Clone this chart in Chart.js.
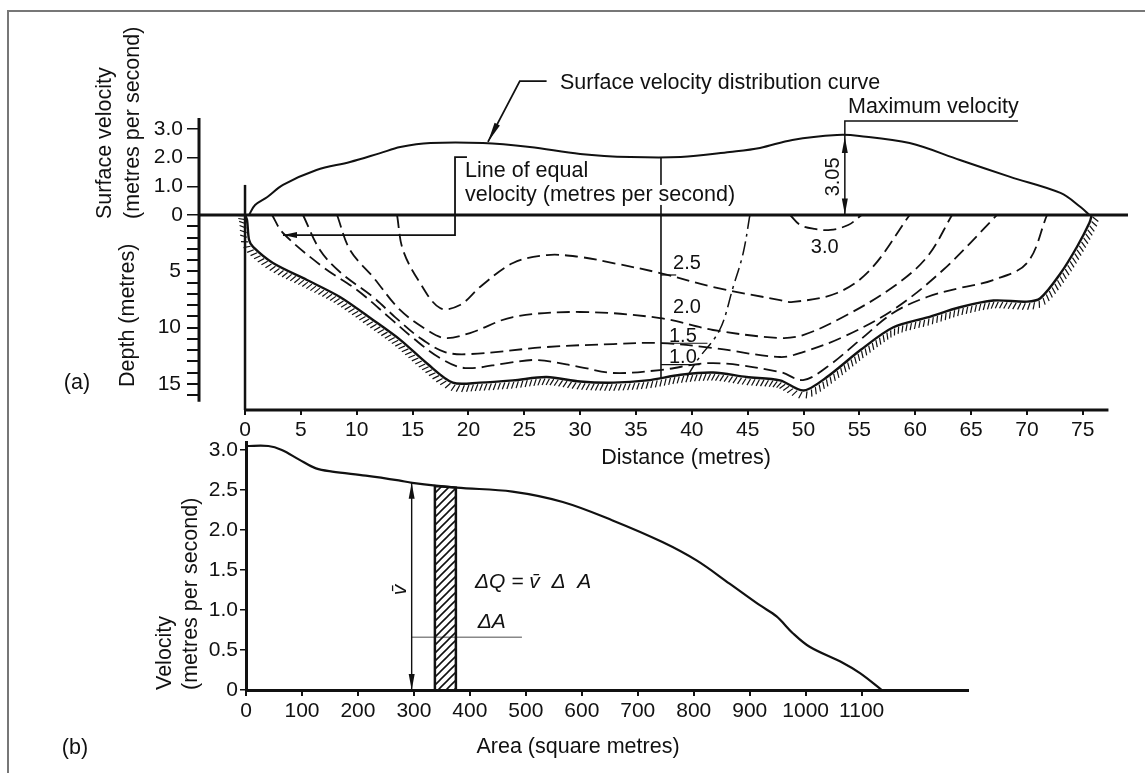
<!DOCTYPE html>
<html>
<head>
<meta charset="utf-8">
<script src="https://cdn.jsdelivr.net/npm/chart.js@4.4.1/dist/chart.umd.min.js"></script>
<style>
  html, body { margin: 0; padding: 0; background: #fff; }
  #page { position: relative; width: 1145px; height: 773px; overflow: hidden; background: #fff; }
  #frame { position: absolute; left: 7px; top: 10px; right: -10px; bottom: -10px;
           border-top: 2px solid #777; border-left: 2px solid #777; }
  canvas { position: absolute; left: 0; top: 0; }
</style>
</head>
<body>
<div id="page">
  <div id="frame"></div>
  <canvas id="sectionChart" width="1145" height="773"></canvas>
  <canvas id="areaChart" width="1145" height="773"></canvas>
</div>
<script>
// ---------- (a) cross section: distance (m) / surface velocity (m/s) / depth (m) ----------
const distanceTicks = [0, 5, 10, 15, 20, 25, 30, 35, 40, 45, 50, 55, 60, 65, 70, 75];
const surfaceTicks = [0, 1, 2, 3];
const surfaceTickLabels = ['0', '1.0', '2.0', '3.0'];
const depthTicks = [1, 2, 3, 4, 5, 6, 7, 8, 9, 10, 11, 12, 13, 14, 15, 16];
const depthTickLabels = ['', '', '', '', '5', '', '', '', '', '10', '', '', '', '', '15', ''];

const surfaceDist = [0.36, 0.9, 2.0, 3.4, 6.4, 9.4, 12.1, 13.9, 16.6, 21.3, 25.5, 30.0, 34.5, 39.0, 43.4, 46.1, 49.0, 53.0, 55.0, 59.5, 64.0, 68.5, 73.0, 74.8, 75.6];
const surfaceVel = [0, 0.35, 0.63, 1.05, 1.57, 1.85, 2.16, 2.37, 2.51, 2.51, 2.37, 2.13, 2.02, 2.02, 2.2, 2.34, 2.62, 2.79, 2.76, 2.51, 1.92, 1.33, 0.77, 0.28, 0];

const bedDist = [0, 0.18, 0.36, 0.72, 2.5, 5.55, 8.5, 11.46, 13.9, 16.3, 18.6, 21.0, 24.0, 27.0, 30.0, 33.0, 36.0, 39.0, 41.9, 44.9, 47.9, 50.0, 52.1, 55.1, 58.0, 61.1, 64.0, 67.0, 70.0, 71.2, 73.0, 74.5, 75.6, 75.8];
const bedDepth = [0, 0.44, 2.2, 2.84, 4.27, 5.78, 7.29, 9.33, 11.1, 13.2, 14.9, 14.9, 14.7, 14.4, 14.8, 14.9, 14.7, 14.2, 14.0, 14.4, 14.7, 15.6, 14.4, 12.0, 10.0, 9.1, 8.2, 7.6, 7.7, 7.4, 5.2, 2.8, 0.7, 0];

// lines of equal velocity
const iso10Dist = [2.42, 3.4, 6.98, 10.03, 12.98, 15.04, 17.46, 19.7, 23.46, 26.14, 29.99, 32.95, 37.15, 41.9, 47.9, 49.96, 52.1, 55.06, 58.01, 61.06, 64.01, 66.97, 70.01, 71.8];
const iso10Depth = [0, 1.6, 4.62, 6.67, 9.16, 10.93, 12.71, 13.6, 13.16, 12.89, 13.51, 14.04, 13.78, 13.16, 13.96, 14.67, 13.51, 11.11, 8.71, 7.29, 6.49, 5.78, 4.27, 0];
const iso15Dist = [5.19, 6.71, 8.5, 11.46, 13.43, 15.67, 17.9, 20.14, 27.04, 32.95, 37.15, 41.9, 47.9, 49.96, 53.54, 58.01, 62.49, 67.32];
const iso15Depth = [0, 3.11, 5.07, 7.29, 9.07, 10.93, 12.18, 12.36, 11.73, 11.47, 11.38, 11.82, 12.62, 12.18, 10.84, 8.44, 4.89, 0];
const iso20Dist = [8.24, 9.4, 11.46, 13.88, 16.29, 17.9, 20.14, 23.99, 29.99, 37.15, 41.9, 47.9, 49.96, 53.54, 58.01, 61.06, 63.3];
const iso20Depth = [0, 3.11, 5.51, 8.44, 10.22, 10.93, 10.49, 9.07, 8.62, 9.16, 10.22, 10.93, 10.67, 9.07, 6.4, 3.73, 0];
const iso25Dist = [13.61, 14.14, 15.67, 17.46, 19.25, 21.04, 23.99, 27.04, 29.99, 32.95, 37.15, 41.9, 47.9, 49.07, 53.0, 55.96, 59.5];
const iso25Depth = [0, 3.11, 6.04, 8.27, 8.0, 6.4, 4.27, 3.56, 3.73, 4.27, 5.16, 6.4, 7.56, 7.73, 6.93, 4.89, 0];
const iso30Dist = [48.8, 49.7, 51.0, 52.4, 54.0, 55.2];
const iso30Depth = [0, 0.89, 1.24, 1.33, 0.89, 0];

// dash-dot line of maximum velocity
const ridgeDist = [45.2, 44.6, 43.7, 42.5, 40.5, 39.5];
const ridgeDepth = [0, 3.38, 6.4, 10.2, 12.9, 14.5];

// sample vertical
const sampleDist = 37.24;
const sampleTopVel = 2.02;
const sampleBottomDepth = 14.5;

// ---------- (b) velocity against cumulative area ----------
const areaTicks = [0, 100, 200, 300, 400, 500, 600, 700, 800, 900, 1000, 1100];
const velocityTicks = [0, 0.5, 1, 1.5, 2, 2.5, 3];
const velocityTickLabels = ['0', '0.5', '1.0', '1.5', '2.0', '2.5', '3.0'];
const curveArea = [0, 40, 64, 95, 125, 154, 214, 273, 297, 376, 476, 566, 655, 744, 805, 864, 918, 948, 977, 1007, 1066, 1097, 1136];
const curveVel = [3.05, 3.05, 3.0, 2.88, 2.77, 2.73, 2.68, 2.62, 2.59, 2.53, 2.48, 2.35, 2.12, 1.85, 1.62, 1.33, 1.06, 0.92, 0.71, 0.54, 0.34, 0.21, 0];
const stripArea = [337.5, 375];
const stripTop = [2.55, 2.53];
const meanArea = 296;
const meanVel = 2.59;
const deltaALevel = 0.66;
const deltaASpan = [296, 493];

// ---------- helpers ----------
const FONT = '"Liberation Sans", Arial, Helvetica, sans-serif';
const BLACK = '#111';
const TICK_SIZE = 21;
const TEXT = `21.5px ${FONT}`;
Chart.defaults.font.family = FONT;
Chart.defaults.font.size = TICK_SIZE;
Chart.defaults.color = BLACK;

const pts = (xs, ys) => xs.map((x, i) => ({ x, y: ys[i] }));

// widest depth label, so the mirrored labels can be pushed back to the left of the axis
const measure = document.createElement('canvas').getContext('2d');
measure.font = `${TICK_SIZE}px ${FONT}`;
const depthLabelWidth = Math.max(...depthTickLabels.map(t => measure.measureText(t).width));

function curve(data, yAxisID, extra) {
  return Object.assign({
    data, yAxisID, showLine: true, fill: false,
    borderColor: BLACK, borderWidth: 2, pointRadius: 0, tension: 0.35
  }, extra);
}

function stroke(ctx, points, width) {
  ctx.lineWidth = width;
  ctx.beginPath();
  points.forEach(([x, y], i) => (i ? ctx.lineTo(x, y) : ctx.moveTo(x, y)));
  ctx.stroke();
}

function arrowHead(ctx, tx, ty, fx, fy, len, half) {
  const a = Math.atan2(ty - fy, tx - fx);
  const bx = tx - len * Math.cos(a), by = ty - len * Math.sin(a);
  ctx.beginPath();
  ctx.moveTo(tx, ty);
  ctx.lineTo(bx + half * Math.sin(a), by - half * Math.cos(a));
  ctx.lineTo(bx - half * Math.sin(a), by + half * Math.cos(a));
  ctx.closePath();
  ctx.fill();
}

function label(ctx, str, x, y, align, font) {
  ctx.font = font || TEXT;
  ctx.textAlign = align || 'left';
  ctx.textBaseline = 'middle';
  ctx.fillText(str, x, y);
}

// same as label, but clears a white box behind the text first
function knockoutLabel(ctx, str, x, y) {
  ctx.font = TEXT;
  const w = ctx.measureText(str).width;
  ctx.save();
  ctx.fillStyle = '#fff';
  ctx.fillRect(x - 2, y - 10, w + 4, 20);
  ctx.restore();
  label(ctx, str, x, y);
}

function vlabel(ctx, str, x, y, align, font) {
  ctx.save();
  ctx.translate(x, y);
  ctx.rotate(-Math.PI / 2);
  label(ctx, str, 0, 0, align, font);
  ctx.restore();
}

// sample the drawn bezier of a dataset, then put short hatch strokes under it
function hatchBed(ctx, meta) {
  const el = meta.data;
  const path = [];
  for (let i = 0; i < el.length - 1; i++) {
    const p0 = el[i], p3 = el[i + 1];
    const c1x = p0.cp2x ?? p0.x, c1y = p0.cp2y ?? p0.y;
    const c2x = p3.cp1x ?? p3.x, c2y = p3.cp1y ?? p3.y;
    for (let t = 0; t < 1; t += 0.1) {
      const u = 1 - t;
      path.push([
        u * u * u * p0.x + 3 * u * u * t * c1x + 3 * u * t * t * c2x + t * t * t * p3.x,
        u * u * u * p0.y + 3 * u * u * t * c1y + 3 * u * t * t * c2y + t * t * t * p3.y
      ]);
    }
  }
  path.push([el[el.length - 1].x, el[el.length - 1].y]);
  ctx.lineWidth = 1.2;
  let acc = 0;
  for (let i = 0; i < path.length - 1; i++) {
    const [ax, ay] = path[i], [bx, by] = path[i + 1];
    const len = Math.hypot(bx - ax, by - ay);
    if (!len) continue;
    const tx = (bx - ax) / len, ty = (by - ay) / len;
    const nx = -ty, ny = tx;
    while (acc < len) {
      const px = ax + tx * acc, py = ay + ty * acc;
      ctx.beginPath();
      ctx.moveTo(px + nx * 1.5, py + ny * 1.5);
      ctx.lineTo(px + nx * 8 - tx * 3, py + ny * 8 - ty * 3);
      ctx.stroke();
      acc += 4.5;
    }
    acc -= len;
  }
}

function hatchPattern() {
  const c = document.createElement('canvas');
  c.width = c.height = 8;
  const g = c.getContext('2d');
  g.strokeStyle = BLACK;
  g.lineWidth = 1.6;
  g.beginPath();
  g.moveTo(0, 8); g.lineTo(8, 0);
  g.moveTo(-2, 2); g.lineTo(2, -2);
  g.moveTo(6, 10); g.lineTo(10, 6);
  g.stroke();
  return g.createPattern(c, 'repeat');
}

// ---------- (a) decorations: axis lines, bed hatching, notes ----------
const sectionDecor = {
  id: 'sectionDecor',
  afterDraw(chart) {
    const { ctx, chartArea: ca, scales } = chart;
    const X = d => scales.x.getPixelForValue(d);
    const V = v => scales.yV.getPixelForValue(v);
    const D = d => scales.yD.getPixelForValue(d);
    ctx.save();
    ctx.strokeStyle = BLACK;
    ctx.fillStyle = BLACK;

    stroke(ctx, [[ca.left, ca.top], [ca.left, D(16.6)]], 3);          // left axis
    stroke(ctx, [[ca.left, V(0)], [ca.right, V(0)]], 3);               // water surface
    stroke(ctx, [[X(0), ca.bottom], [X(77.3), ca.bottom]], 3);          // distance axis
    stroke(ctx, [[X(0), V(1.05)], [X(0), ca.bottom]], 2.5);             // bank at zero distance

    hatchBed(ctx, chart.getDatasetMeta(1));

    // surface velocity curve note
    label(ctx, 'Surface velocity distribution curve', X(28.2), V(4.6));
    stroke(ctx, [[X(27.0), V(4.67)], [X(24.6), V(4.67)], [X(21.75), V(2.55)]], 1.8);
    arrowHead(ctx, X(21.75), V(2.55), X(24.6), V(4.67), 20, 3);

    // maximum velocity
    label(ctx, 'Maximum velocity', X(53.98), V(3.77));
    stroke(ctx, [[X(69.2), V(3.28)], [X(53.7), V(3.28)], [X(53.7), V(0)]], 1.5);
    arrowHead(ctx, X(53.7), V(2.72), X(53.7), V(1.5), 16, 3);
    arrowHead(ctx, X(53.7), V(0.02), X(53.7), V(1.0), 16, 3);
    vlabel(ctx, '3.05', X(52.7), V(1.33), 'center', `20px ${FONT}`);

    // line of equal velocity note
    label(ctx, 'Line of equal', X(19.7), V(1.53));
    knockoutLabel(ctx, 'velocity (metres per second)', X(19.7), V(0.7));
    stroke(ctx, [[X(19.87), V(2.02)], [X(18.8), V(2.02)], [X(18.8), D(1.78)], [X(3.4), D(1.78)]], 1.8);
    arrowHead(ctx, X(3.4), D(1.78), X(8), D(1.78), 14, 3);

    // isovel values
    const small = `20px ${FONT}`;
    label(ctx, '2.5', X(39.57), D(4.27), 'center', small);
    label(ctx, '2.0', X(39.57), D(8.18), 'center', small);
    label(ctx, '1.5', X(39.2), D(10.84), 'center', small);
    label(ctx, '1.0', X(39.2), D(12.62), 'center', small);
    label(ctx, '3.0', X(51.9), D(2.93), 'center', small);
    stroke(ctx, [[X(sampleDist), D(5.33)], [X(38.6), D(5.33)]], 1.2);
    stroke(ctx, [[X(sampleDist), D(11.4)], [X(41.4), D(11.4)]], 1.2);
    stroke(ctx, [[X(sampleDist), D(13.3)], [X(40.7), D(13.3)]], 1.2);

    // axis titles
    vlabel(ctx, 'Surface velocity', 105, 219, 'left');
    vlabel(ctx, '(metres per second)', 133, 219, 'left');
    vlabel(ctx, 'Depth (metres)', 128, 387, 'left');
    label(ctx, 'Distance (metres)', 686, 458, 'center');
    label(ctx, '(a)', 77, 383, 'center');
    ctx.restore();
  }
};

new Chart(document.getElementById('sectionChart'), {
  type: 'scatter',
  data: {
    datasets: [
      curve(pts(surfaceDist, surfaceVel), 'yV'),
      curve(pts(bedDist, bedDepth), 'yD', { tension: 0.3, borderWidth: 2.4 }),
      curve(pts(iso10Dist, iso10Depth), 'yD', { borderDash: [13, 6], borderWidth: 1.8 }),
      curve(pts(iso15Dist, iso15Depth), 'yD', { borderDash: [13, 6], borderWidth: 1.8 }),
      curve(pts(iso20Dist, iso20Depth), 'yD', { borderDash: [13, 6], borderWidth: 1.8 }),
      curve(pts(iso25Dist, iso25Depth), 'yD', { borderDash: [13, 6], borderWidth: 1.8 }),
      curve(pts(iso30Dist, iso30Depth), 'yD', { borderDash: [13, 6], borderWidth: 1.8 }),
      curve(pts(ridgeDist, ridgeDepth), 'yD', { borderDash: [14, 5, 3, 5], borderWidth: 1.5 }),
      curve(pts([sampleDist, sampleDist], [0, sampleTopVel]), 'yV', { tension: 0, borderWidth: 1.6 }),
      curve(pts([sampleDist, sampleDist], [0, sampleBottomDepth]), 'yD', { tension: 0, borderWidth: 1.6 })
    ]
  },
  options: {
    responsive: false,
    animation: false,
    layout: { padding: { left: 139, top: 118, right: 17, bottom: 323 } },
    plugins: { legend: { display: false }, tooltip: { enabled: false } },
    scales: {
      x: {
        type: 'linear', position: 'bottom', min: -4.12, max: 79.05,
        afterBuildTicks: s => { s.ticks = distanceTicks.map(value => ({ value })); },
        afterFit: s => { s.height = 40; },
        border: { display: false },
        grid: { drawOnChartArea: false, color: BLACK, lineWidth: 2, tickLength: 5 },
        ticks: { autoSkip: false, maxRotation: 0, padding: 3, callback: (v, i) => String(distanceTicks[i]) }
      },
      yV: {
        type: 'linear', position: 'left', weight: 1, min: -6.8, max: 3.384,
        afterBuildTicks: s => { s.ticks = surfaceTicks.map(value => ({ value })); },
        afterFit: s => { s.width = 60; },
        border: { display: false },
        grid: { drawOnChartArea: false, color: BLACK, lineWidth: 1.5, tickLength: 12 },
        ticks: { autoSkip: false, padding: 4, callback: (v, i) => surfaceTickLabels[i] }
      },
      yD: {
        // zero-width axis sharing the same line; labels mirrored then shifted back to the left
        type: 'linear', position: 'left', weight: 0, reverse: true, min: -8.62, max: 17.33,
        afterBuildTicks: s => { s.ticks = depthTicks.map(value => ({ value })); },
        afterFit: s => { s.width = 0; },
        border: { display: false },
        grid: { drawOnChartArea: false, color: BLACK, lineWidth: 2, tickLength: 12 },
        ticks: {
          autoSkip: false, mirror: true, crossAlign: 'far',
          padding: -(12 + 6 + depthLabelWidth),
          callback: (v, i) => depthTickLabels[i]
        }
      }
    }
  },
  plugins: [sectionDecor]
});

// ---------- (b) decorations ----------
const areaDecor = {
  id: 'areaDecor',
  afterDraw(chart) {
    const { ctx, scales } = chart;
    const X = a => scales.x.getPixelForValue(a);
    const Y = v => scales.y.getPixelForValue(v);
    ctx.save();
    ctx.fillStyle = BLACK;
    arrowHead(ctx, X(meanArea), Y(meanVel), X(meanArea), Y(1.5), 16, 3);
    arrowHead(ctx, X(meanArea), Y(0), X(meanArea), Y(1.0), 16, 3);
    vlabel(ctx, 'v\u0304', X(275), Y(1.25), 'center', `italic 21px ${FONT}`);
    label(ctx, '\u0394Q = v\u0304  \u0394  A', X(409), Y(1.35), 'left', `italic 21px ${FONT}`);
    label(ctx, '\u0394A', X(439), Y(0.85), 'center', `italic 21px ${FONT}`);

    vlabel(ctx, 'Velocity', 165, 690, 'left');
    vlabel(ctx, '(metres per second)', 191, 690, 'left');
    label(ctx, 'Area (square metres)', 578, 747, 'center');
    label(ctx, '(b)', 75, 748, 'center');
    ctx.restore();
  }
};

new Chart(document.getElementById('areaChart'), {
  type: 'scatter',
  data: {
    datasets: [
      curve(pts(curveArea, curveVel), 'y', { borderWidth: 2.2 }),
      {
        data: pts([stripArea[0], stripArea[0], stripArea[1], stripArea[1]], [0, stripTop[0], stripTop[1], 0]),
        yAxisID: 'y', showLine: true, fill: 'origin', tension: 0, pointRadius: 0,
        backgroundColor: hatchPattern(), borderColor: BLACK, borderWidth: 2.5
      },
      curve(pts([meanArea, meanArea], [0, meanVel]), 'y', { tension: 0, borderWidth: 1.4 }),
      curve(pts(deltaASpan, [deltaALevel, deltaALevel]), 'y', { tension: 0, borderWidth: 1.5, borderColor: '#888' })
    ]
  },
  options: {
    responsive: false,
    animation: false,
    layout: { padding: { left: 196, top: 442, right: 177, bottom: 43 } },
    plugins: { legend: { display: false }, tooltip: { enabled: false } },
    scales: {
      x: {
        type: 'linear', position: 'bottom', min: 0, max: 1290,
        afterBuildTicks: s => { s.ticks = areaTicks.map(value => ({ value })); },
        afterFit: s => { s.height = 40; },
        border: { display: true, color: BLACK, width: 3 },
        grid: { drawOnChartArea: false, color: BLACK, lineWidth: 2, tickLength: 6 },
        ticks: { autoSkip: false, maxRotation: 0, padding: 3, callback: (v, i) => String(areaTicks[i]) }
      },
      y: {
        type: 'linear', position: 'left', min: 0, max: 3.1,
        afterBuildTicks: s => { s.ticks = velocityTicks.map(value => ({ value })); },
        afterFit: s => { s.width = 50; },
        border: { display: true, color: BLACK, width: 3 },
        grid: { drawOnChartArea: false, color: BLACK, lineWidth: 1.5, tickLength: 6 },
        ticks: { autoSkip: false, padding: 2, callback: (v, i) => velocityTickLabels[i] }
      }
    }
  },
  plugins: [areaDecor]
});
</script>
</body>
</html>
